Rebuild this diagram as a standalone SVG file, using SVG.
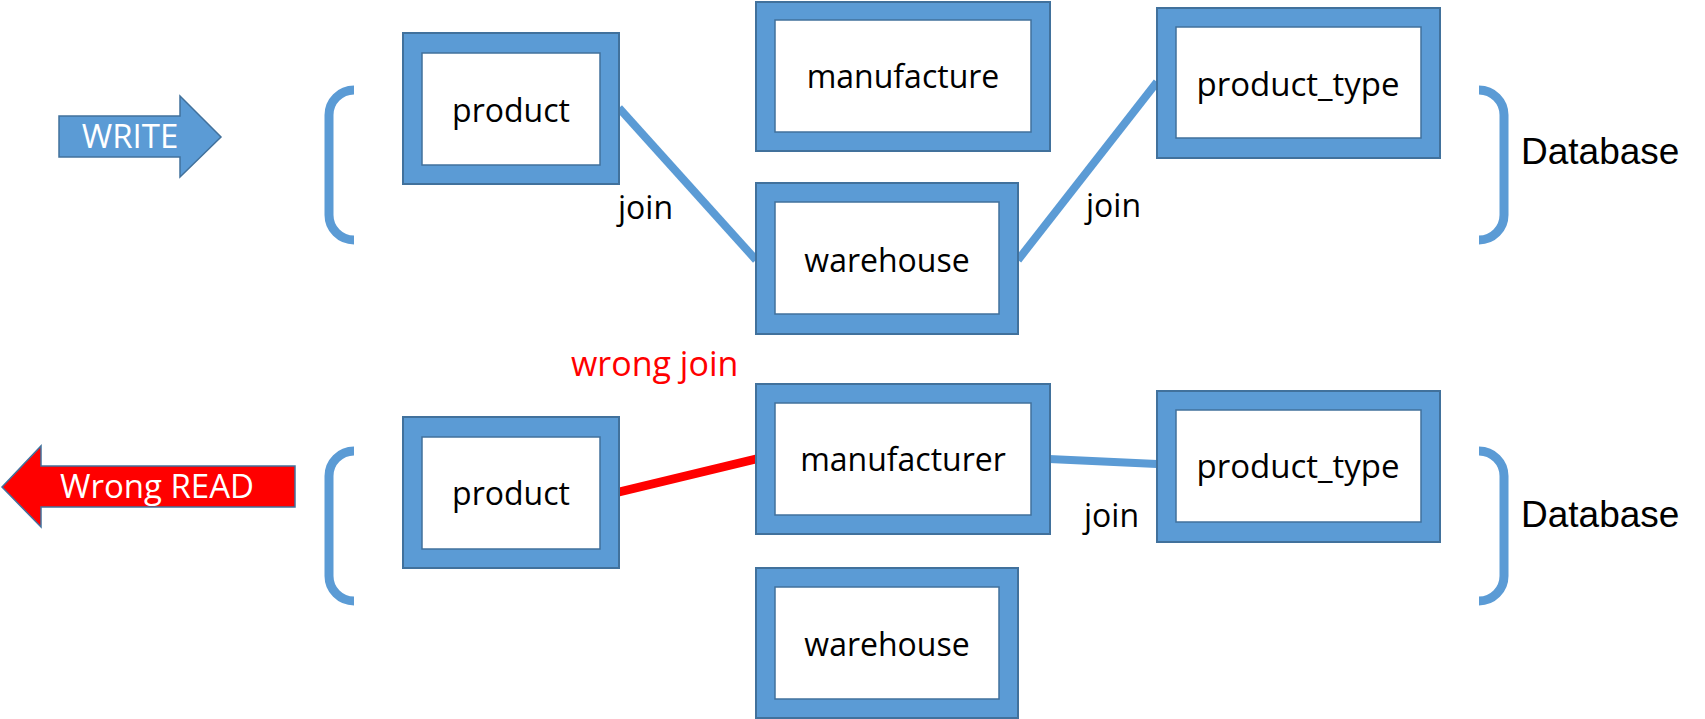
<svg xmlns="http://www.w3.org/2000/svg" width="1705" height="719" viewBox="0 0 1705 719">
<style>
.outer{fill:#5B9BD5;stroke:#41719C;stroke-width:2}
.inner{fill:#FFFFFF;stroke:#41719C;stroke-width:1.5}
.lbl{font-family:"Open Sans","Noto Sans",sans-serif;font-size:32px;fill:#000;text-anchor:middle}
.pt{font-size:33px}
.join{font-family:"Open Sans","Noto Sans",sans-serif;font-size:32px;fill:#000}
.db{font-family:"Liberation Sans",Arial,sans-serif;font-size:37px;fill:#000}
.brk{fill:none;stroke:#5B9BD5;stroke-width:9}
.conn{stroke:#5B9BD5;stroke-width:8;fill:none}
.wrong{stroke:#FF0000;stroke-width:9;fill:none}
.arrowtxt{font-family:"Open Sans","Noto Sans",sans-serif;font-size:33px;fill:#FFFFFF}
</style>
<rect width="1705" height="719" fill="#FFFFFF"/>

<g id="write-arrow">
<polygon points="59,116 180,116 180,96 221,137 180,177 180,157 59,157" fill="#5B9BD5" stroke="#41719C" stroke-width="1.5"/>
<text class="arrowtxt" x="130" y="148" text-anchor="middle" font-size="34">WRITE</text>
</g>

<g id="read-arrow">
<polygon points="2,487 41,446 41,466 295,466 295,507 41,507 41,527" fill="#FF0000" stroke="#41719C" stroke-width="1.5"/>
<text class="arrowtxt" x="157" y="498" text-anchor="middle">Wrong READ</text>
</g>

<g id="brackets">
<path class="brk" d="M354,90 A25,25 0 0 0 329,115 V215 A25,25 0 0 0 354,240"/>
<path class="brk" d="M1479,90 A25,25 0 0 1 1504,115 V215 A25,25 0 0 1 1479,240"/>
<path class="brk" d="M354,451 A25,25 0 0 0 329,476 V576 A25,25 0 0 0 354,601"/>
<path class="brk" d="M1479,451 A25,25 0 0 1 1504,476 V576 A25,25 0 0 1 1479,601"/>
</g>

<g id="connectors">
<line class="conn" x1="619" y1="108" x2="756" y2="260"/>
<line class="conn" x1="1018" y1="260" x2="1157" y2="82"/>
<line class="wrong" x1="619" y1="492" x2="756" y2="459"/>
<line class="conn" x1="1049" y1="459" x2="1157" y2="464"/>
</g>

<g id="top-product">
<rect class="outer" x="403" y="33" width="216" height="151"/>
<rect class="inner" x="422" y="53" width="178" height="112"/>
<text class="lbl" x="511" y="122">product</text>
</g>

<g id="top-manufacture">
<rect class="outer" x="756" y="2" width="294" height="149"/>
<rect class="inner" x="775" y="20" width="256" height="112"/>
<text class="lbl" x="903" y="88">manufacture</text>
</g>

<g id="top-warehouse">
<rect class="outer" x="756" y="183" width="262" height="151"/>
<rect class="inner" x="775" y="202" width="224" height="112"/>
<text class="lbl" x="887" y="272">warehouse</text>
</g>

<g id="top-product-type">
<rect class="outer" x="1157" y="8" width="283" height="150"/>
<rect class="inner" x="1176" y="27" width="245" height="111"/>
<text class="lbl pt" x="1298" y="96">product_type</text>
</g>

<g id="bottom-product">
<rect class="outer" x="403" y="417" width="216" height="151"/>
<rect class="inner" x="422" y="437" width="178" height="112"/>
<text class="lbl" x="511" y="505">product</text>
</g>

<g id="bottom-manufacturer">
<rect class="outer" x="756" y="384" width="294" height="150"/>
<rect class="inner" x="775" y="403" width="256" height="112"/>
<text class="lbl" x="903" y="471">manufacturer</text>
</g>

<g id="bottom-warehouse">
<rect class="outer" x="756" y="568" width="262" height="150"/>
<rect class="inner" x="775" y="587" width="224" height="112"/>
<text class="lbl" x="887" y="656">warehouse</text>
</g>

<g id="bottom-product-type">
<rect class="outer" x="1157" y="391" width="283" height="151"/>
<rect class="inner" x="1176" y="410" width="245" height="112"/>
<text class="lbl pt" x="1298" y="478">product_type</text>
</g>

<g id="labels">
<text class="join" x="618" y="219">join</text>
<text class="join" x="1086" y="217">join</text>
<text class="join" x="1084" y="527">join</text>
<text x="571" y="376" font-family="'Open Sans','Noto Sans',sans-serif" font-size="34" fill="#FF0000">wrong join</text>
<text class="db" x="1521" y="164">Database</text>
<text class="db" x="1521" y="527">Database</text>
</g>
</svg>
